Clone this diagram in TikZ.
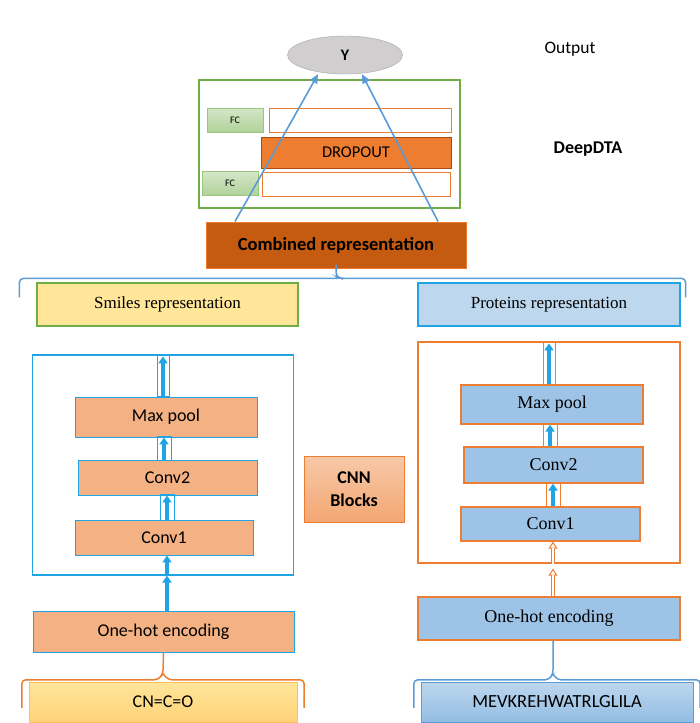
\documentclass[tikz,border=0pt]{standalone}
\usepackage{fontspec}
\setmainfont{Liberation Serif}
\newfontfamily\calibri{Carlito}
\usetikzlibrary{arrows.meta, shapes.geometric}
\definecolor{lineblue}{HTML}{5B9BD5}
\definecolor{cyanblue}{HTML}{1FA5E6}
\definecolor{orangeline}{HTML}{ED7D31}
\definecolor{salmon}{HTML}{F4B183}
\definecolor{skyfill}{HTML}{9DC3E6}
\definecolor{yellowfill}{HTML}{FFE699}
\definecolor{paleblue}{HTML}{BDD7EE}
\definecolor{rust}{HTML}{C55A11}
\definecolor{leaf}{HTML}{70AD47}
\definecolor{greyfill}{HTML}{D0CECE}
\begin{document}
\begin{tikzpicture}[x=1pt, y=-1pt,
  box/.style = {draw, rectangle, inner sep=0pt},
  sans/.style = {font=\calibri\fontsize{18}{21}\selectfont},
  serif/.style = {font=\fontsize{17}{20}\selectfont},
  leftblock/.style = {box, sans, draw=cyanblue, fill=salmon, line width=0.9pt},
  rightblock/.style = {box, font=\fontsize{18}{21}\selectfont, draw=orangeline, fill=skyfill, line width=1.2pt},
  fcbox/.style = {box, draw=leaf!70, top color=leaf!30, bottom color=leaf!55, font=\calibri\fontsize{10}{12}\selectfont, minimum width=56pt, minimum height=24pt},
  emptybox/.style = {box, draw=orangeline, line width=1pt, minimum height=24pt},
  frame/.style = {box, line width=1.2pt, minimum width=261pt},
  upflow/.style = {draw=cyanblue, line width=3.5pt, -{Triangle[length=7pt, width=9pt]}},
  hollowflow/.style = {draw=orangeline, line width=4pt, -{Triangle[length=7pt, width=9pt, fill=white, line width=1pt]}, postaction={draw=white, line width=2pt, -, shorten >=6pt}},
  toy/.style = {draw=lineblue, line width=1.6pt, -{Triangle[length=9pt, width=8pt]}},
  brace/.style = {line width=1.5pt, rounded corners=4pt}]
\useasboundingbox (0,0) rectangle (700,723);

\node[box, ellipse, draw=gray!70, fill=greyfill, minimum width=115pt, minimum height=38pt, font=\calibri\bfseries\fontsize{16}{18}\selectfont] (1) at (345,55) {Y};
\node[font=\calibri\fontsize{17.5}{20}\selectfont] (2) at (570,49) {Output};
\node[font=\calibri\bfseries\fontsize{18}{21}\selectfont] (3) at (588,149) {DeepDTA};
\node[frame, draw=leaf, minimum height=128pt] (4) at (329.5,144) {};
\node[fcbox] (5) at (235,120) {FC};
\node[emptybox, minimum width=182pt] (6) at (360,120.5) {};
\node[box, draw=rust!85!black, fill=orangeline, line width=1pt, minimum width=190pt, minimum height=31pt, font=\calibri\fontsize{16.5}{19}\selectfont] (7) at (356,152.5) {DROPOUT};
\node[fcbox] (8) at (230,183.5) {FC};
\node[emptybox, minimum width=188pt] (9) at (356,184.5) {};
\node[box, draw=orangeline, fill=rust, line width=1pt, minimum width=260pt, minimum height=46pt, font=\calibri\bfseries\fontsize{18.5}{21}\selectfont] (10) at (336,245) {Combined representation};

\node[box, serif, draw=leaf, fill=yellowfill, line width=1.2pt, minimum width=261pt, minimum height=43pt] (11) at (167.5,304.5) {Smiles representation};
\node[box, serif, draw=cyanblue, fill=paleblue, line width=1.2pt, minimum width=262pt, minimum height=43pt] (12) at (549,304.5) {Proteins representation};

\node[frame, draw=cyanblue, minimum height=220pt] (13) at (163,465) {};
\node[leftblock, minimum width=182pt, minimum height=40pt] (14) at (166,417) {Max pool};
\node[leftblock, minimum width=179pt, minimum height=35pt] (15) at (167.5,477.5) {Conv2};
\node[leftblock, minimum width=178pt, minimum height=35pt] (16) at (164,537.5) {Conv1};
\node[box, draw=orangeline, top color=salmon!70, bottom color=salmon!80!orangeline, line width=1pt, minimum width=100pt, minimum height=66pt, align=center, font=\calibri\bfseries\fontsize{18}{23}\selectfont] (17) at (354,489) {CNN\\Blocks};
\node[frame, draw=orangeline, minimum height=221pt, minimum width=262pt] (18) at (549,452.5) {};
\node[rightblock, minimum width=182pt, minimum height=39pt] (19) at (552,404.5) {Max pool};
\node[rightblock, minimum width=179pt, minimum height=36pt] (20) at (553.5,465) {Conv2};
\node[rightblock, minimum width=179pt, minimum height=34pt] (21) at (550.5,524) {Conv1};

\node[leftblock, minimum width=261pt, minimum height=41pt] (22) at (163.5,631.5) {One-hot encoding};
\node[rightblock, minimum width=262pt, minimum height=43pt] (23) at (549,618.5) {One-hot encoding};
\node[box, draw=yellowfill!60!orange, top color=yellowfill, bottom color=yellowfill!80!orange, minimum width=268pt, minimum height=40pt, font=\calibri\fontsize{18}{21}\selectfont] (24) at (163,702) {CN=C=O};
\node[box, draw=lineblue, top color=paleblue, bottom color=skyfill!85!lineblue, minimum width=272pt, minimum height=40pt, font=\calibri\fontsize{18.5}{21}\selectfont] (25) at (557,702) {MEVKREHWATRLGLILA};

\draw[toy] ([xshift=-101]10.north) -- ([xshift=-27]1.south);
\draw[toy] ([xshift=102]10.north) -- ([xshift=17]1.south);

\draw[brace, draw=lineblue] ([xshift=-17,yshift=-15]11.north west) -- ([xshift=-17,yshift=4]11.north west) -- ([xshift=5,yshift=4]11.north west -| 10.south) -- ([yshift=-8]10.south) -- ([yshift=4]10.south);
\draw[brace, draw=lineblue] ([yshift=-8]10.south) -- ([xshift=5,yshift=4]11.north west -| 10.south) -- ([xshift=5,yshift=4]12.north east) -- ([xshift=5,yshift=-15]12.north east);

\draw[brace, draw=orangeline] ([xshift=-7,yshift=-26]24.north west) -- ([xshift=-7,yshift=2]24.north west) -- ([xshift=-5,yshift=2]24.north) -- ([yshift=8]24.north) -- (22.south);
\draw[brace, draw=orangeline] ([yshift=8]24.north) -- ([xshift=5,yshift=2]24.north) -- ([xshift=7,yshift=2]24.north east) -- ([xshift=7,yshift=-26]24.north east);
\draw[brace, draw=lineblue] ([xshift=-7,yshift=-26]25.north west) -- ([xshift=-7,yshift=2]25.north west) -- ([xshift=-8,yshift=2]25.north) -- ([xshift=-4,yshift=8]25.north) -- ([xshift=4]23.south);
\draw[brace, draw=lineblue] ([xshift=-4,yshift=8]25.north) -- ([xshift=0,yshift=2]25.north) -- ([xshift=7,yshift=2]25.north east) -- ([xshift=7,yshift=-26]25.north east);

\draw[cyanblue, line width=0.8pt] ([xshift=-6]14.north -| 163,0) rectangle ([xshift=6]13.north -| 163,0);
\draw[upflow] (14.north -| 163,0) -- ([yshift=-2]13.north -| 163,0);
\draw[cyanblue, line width=0.8pt] ([xshift=-7,yshift=-1]15.north -| 164,0) rectangle ([xshift=7,yshift=1]14.south -| 164,0);
\draw[upflow] (15.north -| 164,0) -- (14.south -| 164,0);
\draw[cyanblue, line width=0.8pt] ([xshift=-7,yshift=-1]16.north -| 167,0) rectangle ([xshift=7,yshift=1]15.south -| 167,0);
\draw[upflow] (16.north -| 167,0) -- (15.south -| 167,0);
\draw[upflow] (13.south -| 167,0) -- (16.south -| 167,0);
\draw[upflow] (22.north -| 167,0) -- (13.south -| 167,0);

\draw[orangeline, line width=1pt] ([xshift=-6]19.north -| 549,0) rectangle ([xshift=6]18.north -| 549,0);
\draw[upflow] (19.north -| 549,0) -- ([yshift=-2]18.north -| 549,0);
\draw[orangeline, line width=1pt] ([xshift=-7,yshift=-1]20.north -| 550,0) rectangle ([xshift=7,yshift=1]19.south -| 550,0);
\draw[upflow] (20.north -| 550,0) -- (19.south -| 550,0);
\draw[orangeline, line width=1pt] ([xshift=-7,yshift=-1]21.north -| 553,0) rectangle ([xshift=7,yshift=1]20.south -| 553,0);
\draw[upflow] (21.north -| 553,0) -- (20.south -| 553,0);
\draw[hollowflow] (18.south -| 553,0) -- (21.south -| 553,0);
\draw[hollowflow] (23.north -| 553,0) -- ([yshift=-5]18.south -| 553,0);
\end{tikzpicture}
\end{document}
